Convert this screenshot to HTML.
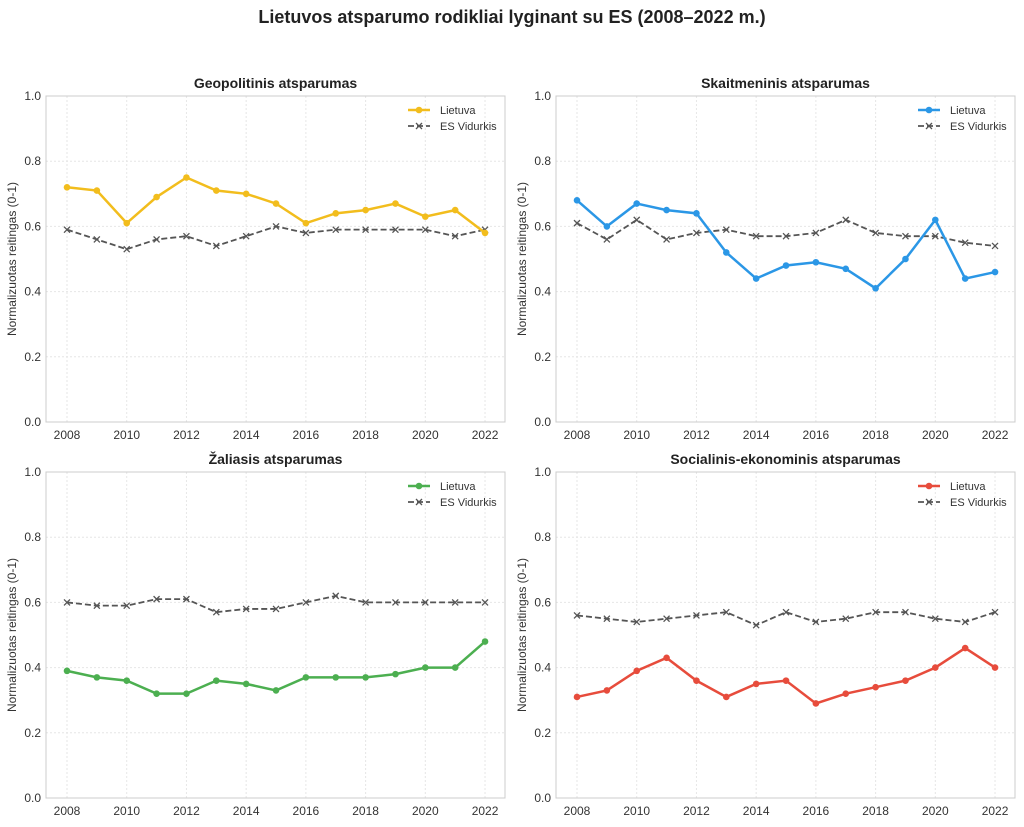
<!DOCTYPE html>
<html><head><meta charset="utf-8"><style>
html,body{margin:0;padding:0;background:#fff;}
svg text{font-family:"Liberation Sans",sans-serif;}
</style></head><body>
<svg id="s" width="1024" height="822" xmlns="http://www.w3.org/2000/svg">
<text x="512" y="23" text-anchor="middle" font-size="18" font-weight="bold" fill="#222">Lietuvos atsparumo rodikliai lyginant su ES (2008–2022 m.)</text>
</svg>
<script>
const S=document.getElementById('s');let h='';
const P=[
{t:'Geopolitinis atsparumas',x0:46,x1:505,y0:96,y1:422,c:'#f2bd1d',
lt:[.72,.71,.61,.69,.75,.71,.70,.67,.61,.64,.65,.67,.63,.65,.58],
eu:[.59,.56,.53,.56,.57,.54,.57,.60,.58,.59,.59,.59,.59,.57,.59]},
{t:'Skaitmeninis atsparumas',x0:556,x1:1015,y0:96,y1:422,c:'#2b97e6',
lt:[.68,.60,.67,.65,.64,.52,.44,.48,.49,.47,.41,.50,.62,.44,.46],
eu:[.61,.56,.62,.56,.58,.59,.57,.57,.58,.62,.58,.57,.57,.55,.54]},
{t:'Žaliasis atsparumas',x0:46,x1:505,y0:472,y1:798,c:'#4caf50',
lt:[.39,.37,.36,.32,.32,.36,.35,.33,.37,.37,.37,.38,.40,.40,.48],
eu:[.60,.59,.59,.61,.61,.57,.58,.58,.60,.62,.60,.60,.60,.60,.60]},
{t:'Socialinis-ekonominis atsparumas',x0:556,x1:1015,y0:472,y1:798,c:'#e74c3c',
lt:[.31,.33,.39,.43,.36,.31,.35,.36,.29,.32,.34,.36,.40,.46,.40],
eu:[.56,.55,.54,.55,.56,.57,.53,.57,.54,.55,.57,.57,.55,.54,.57]}];
for(const p of P){
 const xs=i=>p.x0+21+i*29.86, ys=v=>p.y1-v*(p.y1-p.y0);
 const cx=(p.x0+p.x1)/2;
 h+=`<text x="${cx}" y="${p.y0-8}" text-anchor="middle" font-size="14" font-weight="bold" fill="#222">${p.t}</text>`;
 for(let k=0;k<=5;k++){const y=ys(k*0.2);
  h+=`<line x1="${p.x0}" x2="${p.x1}" y1="${y}" y2="${y}" stroke="#e6e6e6" stroke-dasharray="2,2"/>`;
  h+=`<text x="${p.x0-5}" y="${y+4}" text-anchor="end" font-size="12" fill="#333">${(k*0.2).toFixed(1)}</text>`;}
 for(let i=0;i<15;i+=2){const x=xs(i);
  h+=`<line x1="${x}" x2="${x}" y1="${p.y0}" y2="${p.y1}" stroke="#e6e6e6" stroke-dasharray="2,2"/>`;
  h+=`<text x="${x}" y="${p.y1+17}" text-anchor="middle" font-size="12" fill="#333">${2008+i}</text>`;}
 h+=`<rect x="${p.x0}" y="${p.y0}" width="${p.x1-p.x0}" height="${p.y1-p.y0}" fill="none" stroke="#ccc"/>`;
 const cy=(p.y0+p.y1)/2, lx=p.x0-30;
 h+=`<text transform="translate(${lx},${cy}) rotate(-90)" text-anchor="middle" font-size="12" fill="#333">Normalizuotas reitingas (0-1)</text>`;
 let pe=p.eu.map((v,i)=>xs(i)+','+ys(v)).join(' ');
 h+=`<polyline points="${pe}" fill="none" stroke="#555" stroke-width="1.8" stroke-dasharray="6,3"/>`;
 p.eu.forEach((v,i)=>{const x=xs(i),y=ys(v);h+=`<path d="M${x-3},${y-3}L${x+3},${y+3}M${x-3},${y+3}L${x+3},${y-3}" stroke="#555" stroke-width="1.3"/>`;});
 let pl=p.lt.map((v,i)=>xs(i)+','+ys(v)).join(' ');
 h+=`<polyline points="${pl}" fill="none" stroke="${p.c}" stroke-width="2.5"/>`;
 p.lt.forEach((v,i)=>{h+=`<circle cx="${xs(i)}" cy="${ys(v)}" r="3.3" fill="${p.c}"/>`;});
 const gx=p.x1-97, gy=p.y0+14;
 h+=`<line x1="${gx}" x2="${gx+22}" y1="${gy}" y2="${gy}" stroke="${p.c}" stroke-width="2.5"/><circle cx="${gx+11}" cy="${gy}" r="3.3" fill="${p.c}"/>`;
 h+=`<text x="${gx+32}" y="${gy+4}" font-size="11" fill="#333">Lietuva</text>`;
 const gy2=gy+16;
 h+=`<line x1="${gx}" x2="${gx+22}" y1="${gy2}" y2="${gy2}" stroke="#555" stroke-width="1.8" stroke-dasharray="6,3"/><path d="M${gx+8},${gy2-3}L${gx+14},${gy2+3}M${gx+8},${gy2+3}L${gx+14},${gy2-3}" stroke="#555" stroke-width="1.3"/>`;
 h+=`<text x="${gx+32}" y="${gy2+4}" font-size="11" fill="#333">ES Vidurkis</text>`;
}
S.insertAdjacentHTML('beforeend',h);
</script>
</body></html>
